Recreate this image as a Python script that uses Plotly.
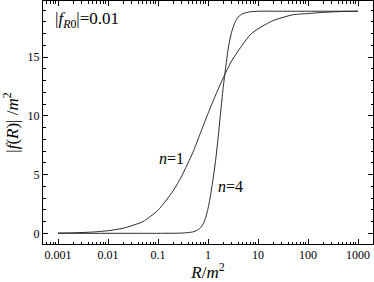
import plotly.graph_objects as go

# R/m^2 sample points
R_n1 = [0.001, 0.002, 0.005, 0.01, 0.02, 0.05, 0.1, 0.2, 0.3, 0.5, 0.7, 1, 1.5, 2, 3, 5, 7, 10, 20, 50, 100, 200, 500, 1000]
f_n1 = [0.02, 0.04, 0.11, 0.22, 0.43, 1.0, 1.97, 3.6, 4.9, 6.9, 8.5, 10.2, 12.0, 13.2, 14.7, 16.1, 16.9, 17.4, 18.1, 18.6, 18.7, 18.8, 18.88, 18.9]

R_n4 = [0.001, 0.01, 0.1, 0.3, 0.5, 0.6, 0.7, 0.8, 0.9, 1.0, 1.1, 1.2, 1.4, 1.6, 1.8, 2.0, 2.3, 2.6, 3.0, 3.5, 4, 5, 7, 10, 30, 100, 1000]
f_n4 = [0.0, 0.0, 0.0, 0.02, 0.12, 0.25, 0.45, 0.8, 1.35, 2.1, 3.0, 4.0, 6.0, 8.2, 10.4, 12.3, 14.4, 16.0, 17.2, 18.0, 18.4, 18.7, 18.85, 18.9, 18.9, 18.9, 18.9]

x_ticks = [0.001, 0.01, 0.1, 1, 10, 100, 1000]
x_ticklabels = ["0.001", "0.01", "0.1", "1", "10", "100", "1000"]
x_minor = [m * 10.0 ** e for e in range(-4, 4) for m in range(2, 10)]
y_ticks = [0, 5, 10, 15]
y_minor = list(range(-1, 20))

FONT = "'Times New Roman', 'Liberation Serif', Tinos, 'DejaVu Serif', 'Noto Serif', serif"
LINE = "#2a2a2a"

fig = go.Figure()
fig.add_trace(go.Scatter(x=R_n1, y=f_n1, mode="lines", line=dict(color=LINE, width=1, shape="spline", smoothing=0.6), showlegend=False))
fig.add_trace(go.Scatter(x=R_n4, y=f_n4, mode="lines", line=dict(color=LINE, width=1, shape="spline", smoothing=0.6), showlegend=False))

axis_common = dict(showline=True, linecolor="black", linewidth=1, mirror="ticks",
                   ticks="inside", tickcolor="black", showgrid=False, zeroline=False,
                   tickfont=dict(family=FONT, size=12, color="black"))

fig.update_xaxes(type="log", range=[-3.3, 3.3], tickvals=x_ticks, ticktext=x_ticklabels, ticklen=5,
                 minor=dict(tickvals=x_minor, ticks="inside", ticklen=2.5, tickcolor="black", showgrid=False),
                 title=dict(text="<i>R</i>/<i>m</i><sup>2</sup>", font=dict(family=FONT, size=17, color="black"), standoff=0),
                 **axis_common)
fig.update_yaxes(range=[-0.91, 19.77], tickvals=y_ticks, ticklen=5,
                 minor=dict(tickvals=y_minor, ticks="inside", ticklen=2.5, tickcolor="black", showgrid=False),
                 title=dict(text="|<i>f</i>(<i>R</i>)| /<i>m</i><sup>2</sup>", font=dict(family=FONT, size=17, color="black"), standoff=6),
                 **axis_common)

fig.add_annotation(x=0.03, y=0.92, xref="paper", yref="paper", xanchor="left", yanchor="middle", showarrow=False,
                   text="|<i>f</i><sub><i>R</i>0</sub>|=0.01", font=dict(family=FONT, size=17, color="black"))
fig.add_annotation(x=0.39, y=0.35, xref="paper", yref="paper", xanchor="center", yanchor="middle", showarrow=False,
                   text="<i>n</i>=1", font=dict(family=FONT, size=16, color="black"))
fig.add_annotation(x=0.567, y=0.235, xref="paper", yref="paper", xanchor="center", yanchor="middle", showarrow=False,
                   text="<i>n</i>=4", font=dict(family=FONT, size=16, color="black"))

fig.update_layout(width=374, height=282, margin=dict(l=43, r=1, t=1, b=38),
                  font=dict(family=FONT, color="black"),
                  paper_bgcolor="white", plot_bgcolor="white")
fig.write_html("out.html", config={"displayModeBar": False},
               post_script="document.body.style.margin='0';document.body.style.padding='0';")
